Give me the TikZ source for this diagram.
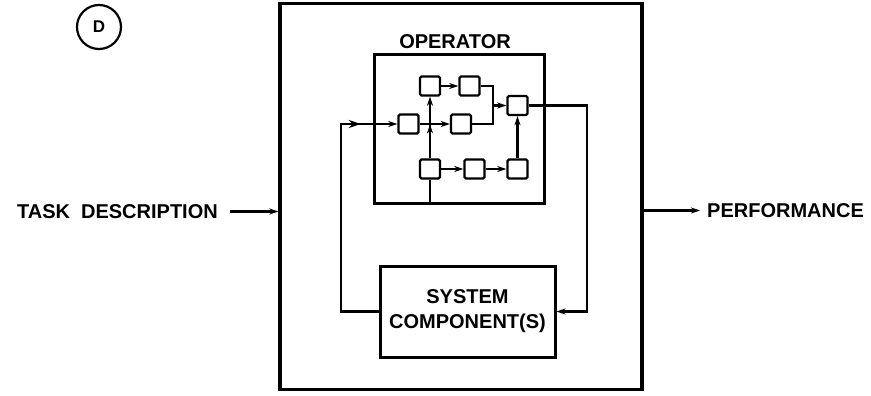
\documentclass[tikz,border=0pt]{standalone}
\usepackage{fontspec}
\setmainfont{Liberation Sans}
\usetikzlibrary{arrows.meta,decorations.markings,calc}
\begin{document}
\begin{tikzpicture}[x=1pt,y=-1pt,
  lbl/.style={font=\fontsize{20}{24}\selectfont\bfseries, inner sep=0pt},
  bigbox/.style={draw, line width=3.2pt, inner sep=0pt},
  sbox/.style={draw, line width=2.4pt, minimum width=20pt, minimum height=19pt, inner sep=0pt, rounded corners=1.5pt},
  wire/.style={line width=2.4pt},
  tip/.style={-{Stealth[length=9pt,width=6pt]}},
  midtip/.style={postaction={decorate}, decoration={markings, mark=at position #1 with {\arrow{Stealth[length=9pt,width=6pt]}}}},
  bigtip/.style={postaction={decorate}, decoration={markings, mark=at position #1 with {\arrow{Stealth[length=12pt,width=8pt]}}}}
]
\useasboundingbox (0,0) rectangle (871,396);

% outer box
\node[bigbox, minimum width=362pt, minimum height=386pt] (outer) at (461,196.5) {};
% operator box
\node[bigbox, line width=3pt, minimum width=170pt, minimum height=148pt] (op) at (459,129) {};
\node[lbl] (oplbl) at (455,41.5) {OPERATOR};
% system components box
\node[bigbox, line width=3pt, minimum width=175pt, minimum height=91pt, align=center,
      font=\fontsize{20}{25}\selectfont\bfseries] (sc) at (467.5,311.5) {SYSTEM\\COMPONENT(S)};

% circle D
\node[draw, circle, line width=2.2pt, minimum size=44pt, inner sep=0pt,
      font=\fontsize{17}{19}\selectfont\bfseries] (dc) at (99,27) {D};

% labels outside
\node[lbl, anchor=east] (task) at (218,211.5) {TASK\hspace{0.55em}DESCRIPTION};
\node[lbl, anchor=west] (perf) at (707,210.5) {PERFORMANCE};

% small boxes
\node[sbox] (A) at (430,86) {};
\node[sbox] (B) at (469.5,86) {};
\node[sbox] (C) at (408.5,124) {};
\node[sbox] (D) at (461,124) {};
\node[sbox] (E) at (517.5,105.5) {};
\node[sbox] (F) at (430,169) {};
\node[sbox] (G) at (474.5,169) {};
\node[sbox] (H) at (517.5,169) {};

\coordinate (m) at (493,105.5);
\coordinate (rr) at (587,311.5);
\coordinate (ll) at (341,311.5);

% internal connections
\draw[wire,tip] (A) -- (B);
\draw[wire,tip] (C) -- (D);
\draw[wire,tip,midtip=0.55] (F.north) -- (A.south);
\draw[wire] (F.south) -- (F.south |- op.south);
\draw[wire] (B.east) -| (m);
\draw[wire,tip] (D.east) -| (m) -- (E.west);
\draw[wire,tip] (F) -- (G);
\draw[wire,tip] (G) -- (H);
\draw[wire,tip] (H.north) -- (E.south);

% loop
\draw[wire,line width=2.8pt,tip] (E.east) -| (rr) -- (sc.east);
\draw[wire,line width=2.8pt,tip,bigtip=0.87] (sc.west) -- (ll) |- (C.west);

% in / out
\draw[wire,tip] ([xshift=12pt]task.east) -- (task.east -| outer.west);
\draw[wire,line width=2.8pt,tip] (outer.east |- perf.west) -- ([xshift=-7pt]perf.west);
\end{tikzpicture}
\end{document}
